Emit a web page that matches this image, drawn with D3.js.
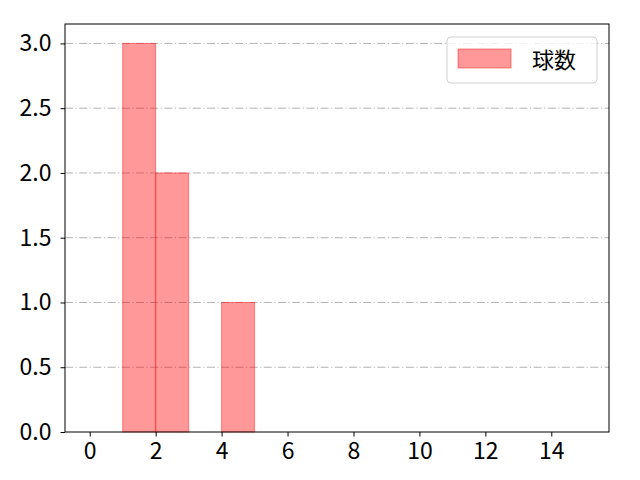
<!DOCTYPE html>
<html>
<head>
<meta charset="utf-8">
<script src="https://cdn.jsdelivr.net/npm/d3@7"></script>
<style>
  body { margin: 0; background: #fff; }
  text { font-family: "Noto Sans CJK JP", "DejaVu Sans", sans-serif; }
</style>
</head>
<body>
<div id="chart"></div>
<script>
// histogram bins and counts
const binStarts = [1, 2, 4];
const binEnds = [2, 3, 5];
const counts = [3, 2, 1];
const xTicks = [0, 2, 4, 6, 8, 10, 12, 14];
const yTicks = [0, 0.5, 1.0, 1.5, 2.0, 2.5, 3.0];
const seriesName = '球数';

const width = 640, height = 480;
const margin = { left: 65, right: 31, top: 24, bottom: 48 };

const svg = d3.select('#chart').append('svg')
  .attr('width', width).attr('height', height);

const x = d3.scaleLinear().domain([-0.75, 15.75])
  .range([margin.left, width - margin.right]);
const y = d3.scaleLinear().domain([0, 3.15])
  .range([height - margin.bottom, margin.top]);

// grid
svg.append('g')
  .selectAll('line')
  .data(yTicks.filter(d => d > 0))
  .enter()
  .append('line')
  .attr('x1', margin.left)
  .attr('x2', width - margin.right)
  .attr('y1', d => y(d))
  .attr('y2', d => y(d))
  .attr('stroke', '#aaaaaa')
  .attr('stroke-width', 0.9)
  .attr('stroke-dasharray', '8,2.5,1.2,2.5');

// bars
const bins = counts.map((c, i) => ({ x0: binStarts[i], x1: binEnds[i], v: c }));
svg.append('g')
  .selectAll('rect')
  .data(bins)
  .enter()
  .append('rect')
  .attr('x', d => x(d.x0))
  .attr('y', d => y(d.v))
  .attr('width', d => x(d.x1) - x(d.x0))
  .attr('height', d => y(0) - y(d.v))
  .attr('fill', 'rgba(255,0,0,0.4)')
  .attr('stroke', 'rgba(255,30,30,0.5)')
  .attr('stroke-width', 1);

// axes
const xAxis = svg.append('g')
  .attr('transform', `translate(0,${height - margin.bottom})`)
  .call(d3.axisBottom(x).tickValues(xTicks).tickSize(4.5).tickPadding(6).tickFormat(d3.format('d')));
const yAxis = svg.append('g')
  .attr('transform', `translate(${margin.left},0)`)
  .call(d3.axisLeft(y).tickValues(yTicks).tickSize(4.5).tickPadding(9).tickFormat(d3.format('.1f')));

[xAxis, yAxis].forEach(g => {
  g.attr('font-size', null).attr('font-family', null);
  g.select('.domain').remove();
  g.selectAll('text').style('font-size', '23px').attr('fill', '#000');
  g.selectAll('line').attr('stroke', '#000').attr('stroke-width', 1);
});

// frame
svg.append('rect')
  .attr('x', margin.left).attr('y', margin.top)
  .attr('width', width - margin.left - margin.right)
  .attr('height', height - margin.top - margin.bottom)
  .attr('fill', 'none').attr('stroke', '#000').attr('stroke-width', 1);

// legend
const lg = svg.append('g');
lg.append('rect')
  .attr('x', 447).attr('y', 37).attr('width', 150).attr('height', 46)
  .attr('rx', 4).attr('fill', 'rgba(255,255,255,0.8)')
  .attr('stroke', '#d0d0d0').attr('stroke-width', 1);
lg.append('rect')
  .attr('x', 458).attr('y', 49).attr('width', 53).attr('height', 19)
  .attr('fill', 'rgba(255,0,0,0.4)').attr('stroke', 'rgba(255,30,30,0.5)');
lg.append('text')
  .attr('x', 532).attr('y', 68)
  .style('font-size', '22px').attr('fill', '#000')
  .text(seriesName);
</script>
</body>
</html>
